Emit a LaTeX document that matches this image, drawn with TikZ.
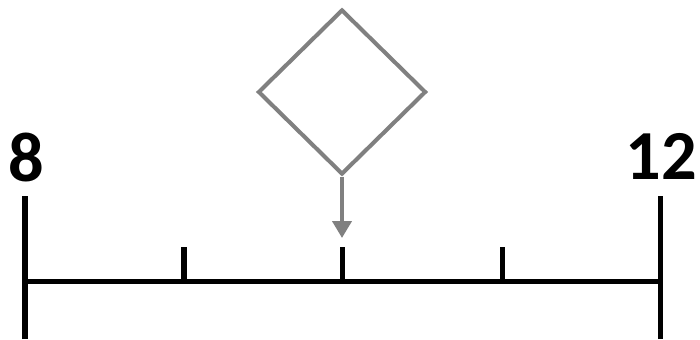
\documentclass[tikz,border=0pt]{standalone}
\usepackage{fontspec}
\setmainfont{Carlito}
\usepackage{xcolor}
\usetikzlibrary{arrows.meta, shapes.geometric}

\definecolor{shapegray}{RGB}{128,128,128}

\begin{document}
\begin{tikzpicture}[>=Stealth, x=0.02cm, y=0.02cm,
    axisline/.style={black, line width=2.85pt},
    numlabel/.style={font=\fontsize{40}{48}\selectfont\bfseries, inner sep=0pt}]

    \useasboundingbox (0,0) rectangle (700,339);

    % ==========================================
    % Number line
    % ==========================================
    \coordinate (left) at (25,58);
    \coordinate (right) at (660,58);
    \draw[axisline] (left) -- (right);

    % End ticks
    \draw[axisline] (25,0) -- (25,143);
    \draw[axisline] (660,0) -- (660,143);

    % Small ticks
    \foreach \x/\name in {184/tickA, 342/tickB, 502/tickC} {
        \draw[axisline] (\x,58) -- (\x,92) coordinate (\name);
    }

    % End labels
    \node[numlabel] (lowlabel) at (26,182) {8};
    \node[numlabel] (highlabel) at (661,183) {12};

    % ==========================================
    % Diamond marker and arrow
    % ==========================================
    \node[diamond, draw=shapegray, line width=2.3pt, inner sep=0pt,
          minimum width=3.36cm, minimum height=3.3cm] (marker) at (342,247) {};
    \coordinate (markertip) at (342,101);
    \draw[shapegray, line width=2.3pt, -{Triangle[width=0.38cm, length=0.34cm]}]
        (marker.south) -- (markertip);

\end{tikzpicture}
\end{document}
